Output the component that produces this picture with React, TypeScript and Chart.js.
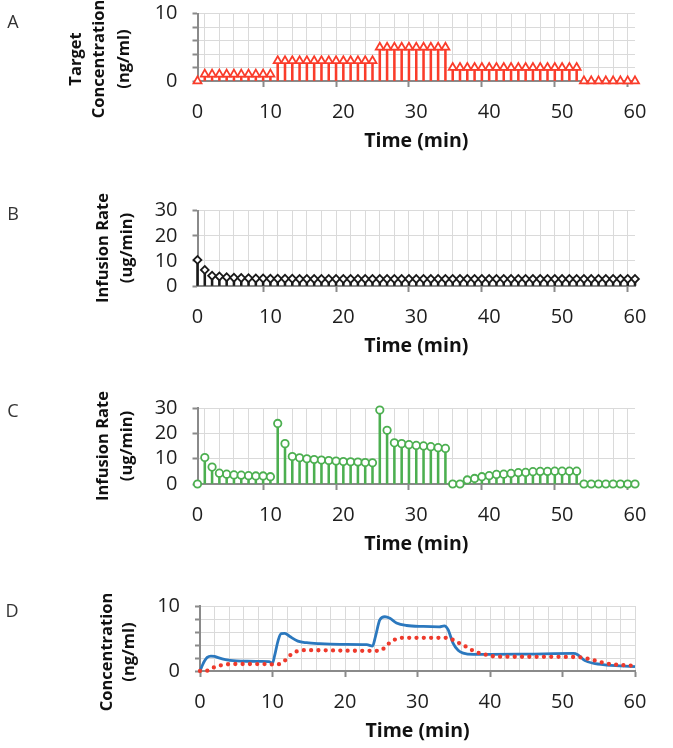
import React, { useEffect, useRef } from "react";
import { Chart, registerables } from "chart.js";

Chart.register(...registerables);

// Time base shared by the stem panels (minutes)
const MINUTES = [
  0, 1, 2, 3, 4, 5, 6, 7, 8, 9, 10, 11, 12, 13, 14, 15, 16, 17, 18, 19, 20,
  21, 22, 23, 24, 25, 26, 27, 28, 29, 30, 31, 32, 33, 34, 35, 36, 37, 38, 39, 40,
  41, 42, 43, 44, 45, 46, 47, 48, 49, 50, 51, 52, 53, 54, 55, 56, 57, 58, 59, 60,
];

// Panel A: target concentration (ng/ml)
const TARGET_CONC = [
  0, 1, 1, 1, 1, 1, 1, 1, 1, 1, 1, 3, 3, 3, 3, 3, 3, 3, 3, 3, 3,
  3, 3, 3, 3, 5, 5, 5, 5, 5, 5, 5, 5, 5, 5, 2, 2, 2, 2, 2, 2,
  2, 2, 2, 2, 2, 2, 2, 2, 2, 2, 2, 2, 0, 0, 0, 0, 0, 0, 0, 0,
];

// Panel B: infusion rate (ug/min)
const RATE_B = [
  10.4, 6.4, 4.1, 3.8, 3.5, 3.3, 3.2, 3.1, 3.0, 3.0, 2.9, 2.9, 2.9, 2.9, 2.8, 2.8, 2.8, 2.8, 2.8, 2.8, 2.8,
  2.8, 2.8, 2.8, 2.8, 2.8, 2.8, 2.8, 2.8, 2.8, 2.8, 2.8, 2.8, 2.8, 2.8, 2.8, 2.8, 2.8, 2.8, 2.8, 2.8,
  2.8, 2.8, 2.8, 2.8, 2.8, 2.8, 2.8, 2.8, 2.8, 2.8, 2.8, 2.8, 2.8, 2.8, 2.8, 2.8, 2.8, 2.8, 2.8, 2.8,
];

// Panel C: infusion rate (ug/min)
const RATE_C = [
  0, 10.5, 6.7, 4.3, 3.9, 3.6, 3.5, 3.3, 3.2, 3.2, 2.9, 24, 16, 10.9, 10.4, 10, 9.7, 9.5, 9.3, 9.1, 8.9,
  8.8, 8.7, 8.5, 8.4, 29.3, 21.3, 16.3, 16, 15.6, 15.3, 15.1, 14.8, 14.4, 14.1, 0, 0, 1.6, 2.2, 2.9, 3.3,
  3.8, 3.9, 4.2, 4.5, 4.6, 4.9, 5.0, 5.0, 5.1, 5.1, 5.1, 5.1, 0, 0, 0, 0, 0, 0, 0, 0,
];

// Panel D: simulated concentration (solid) and target-following concentration (dotted)
const SIM_TIME = [
  0, 0.3, 0.6, 1.0, 1.5, 2.0, 2.5, 3.5, 5, 6.5, 8.5, 9.5, 10.0, 10.3, 10.8, 11.2, 11.7, 12.4, 13.5, 14.7,
  16.5, 19.3, 23, 23.8, 24.2, 24.8, 25.5, 26.2, 27.1, 28.5, 30.8, 33.0, 33.7, 34.2, 34.9, 35.6, 36.3, 37.7,
  40, 45, 51.5, 52.1, 53.1, 54.2, 56.1, 57.9, 60,
];
const SIM_CONC = [
  0, 0.8, 1.5, 2.1, 2.3, 2.25, 2.05, 1.75, 1.55, 1.5, 1.49, 1.45, 1.2, 2.4, 4.8, 5.75, 5.8, 5.3, 4.6, 4.35,
  4.2, 4.1, 4.05, 3.85, 5.3, 7.85, 8.35, 8.1, 7.4, 7.0, 6.85, 6.8, 6.95, 6.4, 4.3, 3.2, 2.75, 2.55,
  2.55, 2.6, 2.7, 2.5, 1.6, 1.2, 0.92, 0.8, 0.67,
];
const EST_TIME = [
  0, 1, 1.5, 2, 3, 4, 5, 9.5, 10.5, 11, 11.7, 12.4, 13.3, 14.4, 24, 24.9, 25.9, 26.9, 27.8, 34.2,
  35.3, 36.3, 37.2, 38.1, 39.3, 40.2, 42, 52, 53.2, 54.2, 55.4, 56.5, 57.5, 58.7, 60,
];
const EST_CONC = [
  0, 0.05, 0.3, 0.6, 0.9, 1.05, 1.08, 1.05, 0.95, 1.1, 1.6, 2.4, 3.0, 3.2, 3.1, 3.15, 4.1, 4.85, 5.1, 5.1,
  4.5, 4.0, 3.4, 2.9, 2.55, 2.3, 2.2, 2.15, 1.95, 1.7, 1.33, 1.08, 0.97, 0.87, 0.8,
];

const X_TICK_LABELS = [0, 10, 20, 30, 40, 50, 60];
const CONC_TICK_LABELS = [0, 10];
const RATE_TICK_LABELS = [0, 10, 20, 30];

const FONT = "'Open Sans', 'DejaVu Sans', sans-serif";
const GRID = "#dadada";
const AXIS = "#8a8a8a";
const TICK_TEXT = "#1e1e1e";
const RED = "#fa3c2a";
const GREEN = "#4caf50";
const BLUE = "#2b78be";

const WIDTH = 673;

type Pad = { left: number; right: number; top: number; bottom: number };

function zip(xs: number[], ys: number[]) {
  return xs.map((x, i) => ({ x, y: ys[i] }));
}

function baseScales(yMax: number, yStep: number, yLabels: number[]) {
  return {
    x: {
      type: "linear",
      min: 0,
      max: 60,
      offset: false,
      afterFit: (s: any) => {
        s.height = 72;
      },
      ticks: {
        stepSize: 2,
        autoSkip: false,
        maxRotation: 0,
        padding: 13,
        color: TICK_TEXT,
        font: { family: FONT, size: 20 },
        callback: (v: any) => (X_TICK_LABELS.includes(Number(v)) ? String(v) : ""),
      },
      grid: {
        color: GRID,
        lineWidth: 1,
        tickLength: 6,
        tickWidth: 2,
        tickColor: (c: any) =>
          c.tick && X_TICK_LABELS.includes(c.tick.value) ? AXIS : "rgba(0,0,0,0)",
      },
      border: { color: AXIS, width: 2 },
      title: {
        display: true,
        text: "Time (min)",
        color: "#111",
        font: { family: FONT, size: 19.5, weight: "bold" },
        padding: 0,
      },
    },
    y: {
      min: 0,
      max: yMax,
      afterFit: (s: any) => {
        s.width = 60;
        s.paddingTop = 0;
        s.paddingBottom = 0;
      },
      ticks: {
        stepSize: yStep,
        autoSkip: false,
        padding: 15,
        color: TICK_TEXT,
        font: { family: FONT, size: 20 },
        callback: (v: any) => (yLabels.includes(Number(v)) ? String(v) : ""),
      },
      grid: { color: GRID, lineWidth: 1, tickLength: 5, tickWidth: 2, tickColor: AXIS },
      border: { color: AXIS, width: 2 },
    },
  };
}

function commonOptions(pad: Pad, scales: any) {
  return {
    responsive: false,
    animation: false,
    devicePixelRatio: 1,
    layout: { padding: pad },
    scales,
    plugins: { legend: { display: false }, tooltip: { enabled: false } },
    events: [],
  };
}

function stemConfig(
  values: number[],
  color: string,
  pointStyle: string,
  radius: number,
  yMax: number,
  yStep: number,
  yLabels: number[],
  pad: Pad
) {
  const pts = zip(MINUTES, values);
  return {
    type: "line",
    data: {
      datasets: [
        {
          type: "line",
          data: pts,
          showLine: false,
          pointStyle,
          pointRadius: radius,
          pointBorderWidth: 1.8,
          pointBorderColor: color,
          pointBackgroundColor: "#ffffff",
          clip: false,
          order: 0,
        },
        {
          type: "bar",
          data: pts,
          backgroundColor: color,
          borderWidth: 0,
          barThickness: 1.9,
          clip: false,
          order: 1,
        },
      ],
    },
    options: commonOptions(pad, baseScales(yMax, yStep, yLabels)),
  };
}

function concentrationConfig(pad: Pad) {
  return {
    type: "line",
    data: {
      datasets: [
        {
          data: zip(EST_TIME, EST_CONC),
          borderColor: "#ee3a2c",
          borderWidth: 4.3,
          borderDash: [0, 7.3],
          borderCapStyle: "round",
          cubicInterpolationMode: "monotone",
          pointRadius: 0,
          fill: false,
          clip: false,
          order: 0,
        },
        {
          data: zip(SIM_TIME, SIM_CONC),
          borderColor: BLUE,
          borderWidth: 2.8,
          cubicInterpolationMode: "monotone",
          pointRadius: 0,
          fill: false,
          clip: false,
          order: 1,
        },
      ],
    },
    options: commonOptions(pad, baseScales(10, 2, CONC_TICK_LABELS)),
  };
}

function Panel({ top, height, make }: { top: number; height: number; make: () => any }) {
  const ref = useRef<HTMLCanvasElement>(null);
  useEffect(() => {
    const chart = new Chart(ref.current as HTMLCanvasElement, make());
    return () => chart.destroy();
  }, []);
  return (
    <canvas
      ref={ref}
      width={WIDTH}
      height={height}
      style={{ position: "absolute", left: 0, top, width: WIDTH, height }}
    />
  );
}

function VText({ x, y, text }: { x: number; y: number; text: string }) {
  return (
    <div
      style={{
        position: "absolute",
        left: x,
        top: y,
        transform: "translate(-50%, -50%) rotate(-90deg)",
        whiteSpace: "nowrap",
        fontFamily: FONT,
        fontWeight: 700,
        fontSize: 16.5,
        lineHeight: "20px",
        color: "#111",
      }}
    >
      {text}
    </div>
  );
}

function Letter({ x, y, text }: { x: number; y: number; text: string }) {
  return (
    <div
      style={{
        position: "absolute",
        left: x,
        top: y,
        transform: "translate(-50%, -50%)",
        fontFamily: FONT,
        fontSize: 18,
        lineHeight: "20px",
        color: "#333",
      }}
    >
      {text}
    </div>
  );
}

export default function App() {
  return (
    <div
      style={{
        position: "absolute",
        left: 0,
        top: 0,
        width: WIDTH,
        height: 748,
        background: "#ffffff",
        overflow: "hidden",
      }}
    >
      <Panel
        top={0}
        height={190}
        make={() =>
          stemConfig(TARGET_CONC, RED, "triangle", 4.6, 10, 2, CONC_TICK_LABELS, {
            left: 137.5,
            right: 38,
            top: 13.7,
            bottom: 37,
          })
        }
      />
      <Panel
        top={190}
        height={190}
        make={() =>
          stemConfig(RATE_B, "#1a1a1a", "rectRot", 3.9, 30, 10, RATE_TICK_LABELS, {
            left: 137.5,
            right: 38,
            top: 20.7,
            bottom: 22,
          })
        }
      />
      <Panel
        top={380}
        height={190}
        make={() =>
          stemConfig(RATE_C, GREEN, "circle", 3.7, 30, 10, RATE_TICK_LABELS, {
            left: 137.5,
            right: 38,
            top: 28.3,
            bottom: 14,
          })
        }
      />
      <Panel
        top={570}
        height={178}
        make={() =>
          concentrationConfig({ left: 140, right: 38, top: 36, bottom: 5 })
        }
      />

      <Letter x={13} y={21} text="A" />
      <Letter x={13} y={213} text="B" />
      <Letter x={13} y={410} text="C" />
      <Letter x={12} y={610} text="D" />

      <VText x={75} y={59} text="Target" />
      <VText x={98} y={59} text="Concentration" />
      <VText x={123} y={59} text="(ng/ml)" />

      <VText x={102} y={248} text="Infusion Rate" />
      <VText x={126} y={248} text="(ug/min)" />

      <VText x={102} y={446} text="Infusion Rate" />
      <VText x={126} y={446} text="(ug/min)" />

      <VText x={106} y={652} text="Concentration" />
      <VText x={128} y={652} text="(ng/ml)" />
    </div>
  );
}
